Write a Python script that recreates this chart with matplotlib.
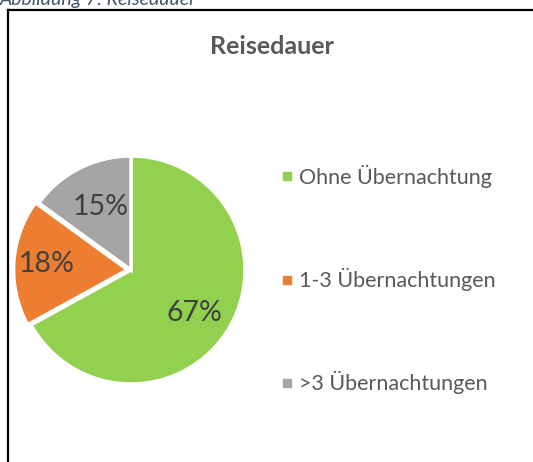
import matplotlib
import numpy as np

matplotlib.use("Agg")
import matplotlib.pyplot as plt
from matplotlib.lines import Line2D

categories = ["Ohne Übernachtung", "1-3 Übernachtungen", ">3 Übernachtungen"]
shares = [67, 18, 15]
colors = ["#92D050", "#ED7D31", "#A5A5A5"]
title = "Reisedauer"
caption = "Abbildung 7: Reisedauer"

W, H = 533, 462
fig = plt.figure(figsize=(W / 100, H / 100), dpi=100)
plt.rcParams["font.family"] = ["Lato", "DejaVu Sans"]


def fx(px):
    return px / W


def fy(py):
    return 1 - py / H


# Caption above the frame, cut off at the top of the image
fig.text(fx(0), fy(5), caption, fontsize=14, style="italic", color="#44546A",
         ha="left", va="baseline")

# Chart frame (top and left edges visible)
fig.add_artist(Line2D([fx(7.5), fx(533)], [fy(9.5), fy(9.5)], color="black",
                      lw=1.6, transform=fig.transFigure))
fig.add_artist(Line2D([fx(7.5), fx(7.5)], [fy(9.5), fy(462)], color="black",
                      lw=1.6, transform=fig.transFigure))

fig.text(fx(272), fy(47), title, fontsize=18, fontweight="bold",
         color="#595959", ha="center", va="center")

# Pie: centre (131, 270), radius 114 px
r = 114
ax = fig.add_axes([fx(131 - r), fy(270 + r), 2 * r / W, 2 * r / H])
wedges, _ = ax.pie(shares, colors=colors, startangle=90, counterclock=False,
                   explode=[0, 0.03, 0],
                   wedgeprops=dict(edgecolor="white", linewidth=2.5))
ax.set_xlim(-1.0, 1.0)
ax.set_ylim(-1.0, 1.0)
ax.set_aspect("equal")
ax.axis("off")

label_dist = [0.66, 0.71, 0.63]
for w, s, d in zip(wedges, shares, label_dist):
    ang = np.deg2rad((w.theta1 + w.theta2) / 2 - 2)
    cx, cy = w.center
    ax.text(cx + d * np.cos(ang), cy + d * np.sin(ang), f"{s}%",
            fontsize=20.5, color="#404040", ha="center",
            va="center_baseline")

handles = [Line2D([], [], marker="s", linestyle="none", markersize=6,
                  markerfacecolor=c, markeredgecolor=c) for c in colors]
fig.legend(handles, categories, loc="upper left",
           bbox_to_anchor=(fx(270), fy(154)), frameon=False, fontsize=15.5,
           labelcolor="#595959", labelspacing=3.72, handlelength=0.6,
           handletextpad=0.25, borderpad=0)

fig.savefig("out.png", dpi=100)
